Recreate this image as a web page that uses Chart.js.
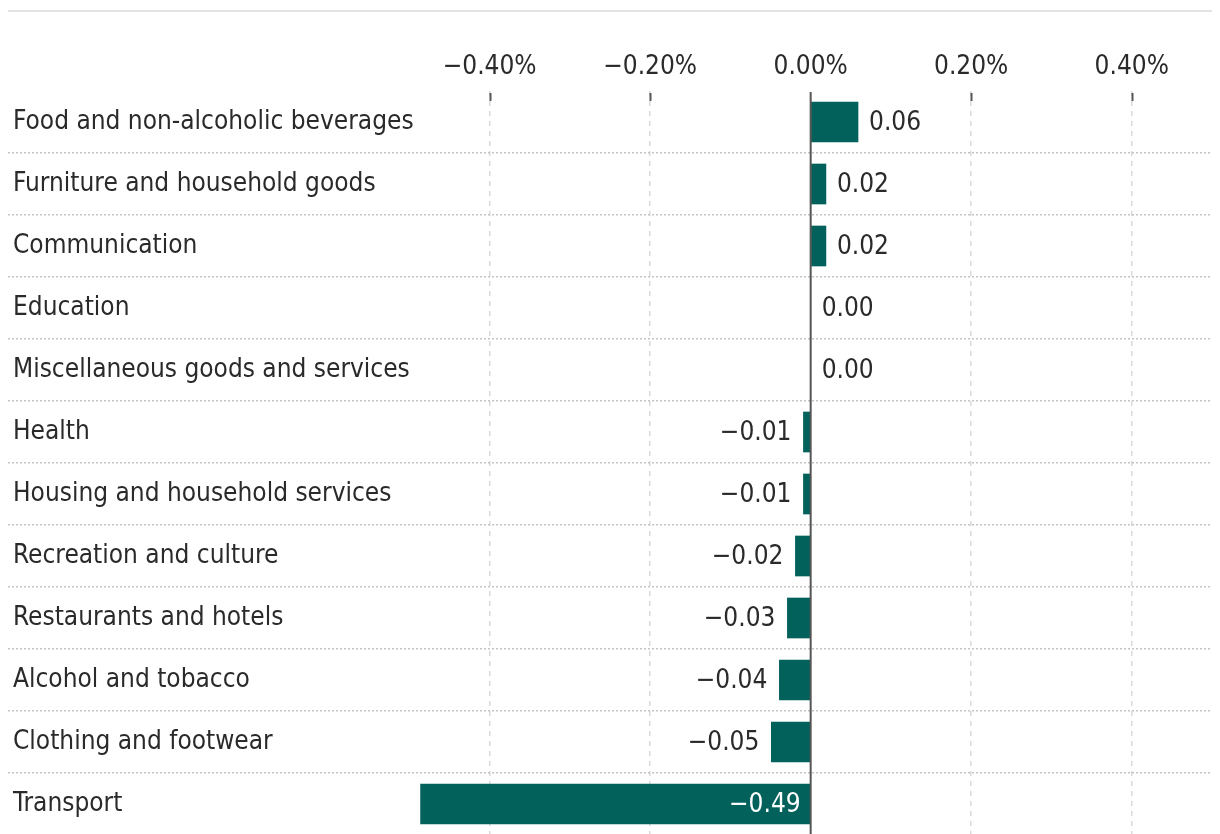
<!DOCTYPE html>
<html>
<head>
<meta charset="utf-8">
<script src="https://cdn.jsdelivr.net/npm/chart.js@4/dist/chart.umd.min.js"></script>
<style>
  html, body { margin: 0; padding: 0; background: #fff; overflow: hidden; }
  #wrap { width: 1220px; height: 836px; position: relative; }
</style>
</head>
<body>
<div id="wrap"><canvas id="contribChart"></canvas></div>
<script>
// ── data ──
const categories = [
  'Food and non-alcoholic beverages',
  'Furniture and household goods',
  'Communication',
  'Education',
  'Miscellaneous goods and services',
  'Health',
  'Housing and household services',
  'Recreation and culture',
  'Restaurants and hotels',
  'Alcohol and tobacco',
  'Clothing and footwear',
  'Transport',
];
const contributions = [0.059, 0.019, 0.019, 0.0, 0.0, -0.009, -0.009, -0.019, -0.029, -0.039, -0.049, -0.486];
const valueLabels = ['0.06', '0.02', '0.02', '0.00', '0.00', '−0.01', '−0.01', '−0.02', '−0.03', '−0.04', '−0.05', '−0.49'];
const xTicks = [-0.4, -0.2, 0, 0.2, 0.4];
const xTickLabels = ['−0.40%', '−0.20%', '0.00%', '0.20%', '0.40%'];

const FONT = '"Liberation Sans Narrow", "DejaVu Sans Condensed", Roboto, sans-serif';
const BAR = '#03615c';
const TEXT = '#2a2a2a';

// top rule line
const topRule = {
  id: 'topRule',
  beforeDraw(chart) {
    const ctx = chart.ctx;
    ctx.save();
    ctx.strokeStyle = '#e4e4e4';
    ctx.lineWidth = 2;
    ctx.beginPath();
    ctx.moveTo(chart.chartArea.left, 11);
    ctx.lineTo(chart.chartArea.right, 11);
    ctx.stroke();
    ctx.restore();
  }
};

// zero line, tick marks, value labels
const extras = {
  id: 'extras',
  afterDatasetsDraw(chart) {
    const ctx = chart.ctx;
    const xs = chart.scales.x;
    const area = chart.chartArea;
    ctx.save();

    // little tick marks under the axis labels
    ctx.strokeStyle = '#555';
    ctx.lineWidth = 2;
    xTicks.forEach(v => {
      if (v === 0) return;
      const x = Math.round(xs.getPixelForValue(v)) + 0.5;
      ctx.beginPath();
      ctx.moveTo(x, area.top + 2);
      ctx.lineTo(x, area.top + 10);
      ctx.stroke();
    });

    // zero line
    const x0 = xs.getPixelForValue(0);
    ctx.beginPath();
    ctx.moveTo(x0, area.top + 1);
    ctx.lineTo(x0, area.bottom);
    ctx.stroke();

    // value labels
    const meta = chart.getDatasetMeta(0);
    ctx.font = '26px ' + FONT;
    ctx.textBaseline = 'middle';
    meta.data.forEach((bar, i) => {
      const v = contributions[i];
      const y = bar.y + 1;
      if (v >= 0) {
        ctx.fillStyle = TEXT;
        ctx.textAlign = 'left';
        ctx.fillText(valueLabels[i], bar.x + 11, y);
      } else if (x0 - bar.x > 100) {
        ctx.fillStyle = '#fff';
        ctx.textAlign = 'right';
        ctx.fillText(valueLabels[i], x0 - 10, y);
      } else {
        ctx.fillStyle = TEXT;
        ctx.textAlign = 'right';
        ctx.fillText(valueLabels[i], bar.x - 12, y);
      }
    });
    ctx.restore();
  }
};

new Chart(document.getElementById('contribChart'), {
  type: 'bar',
  plugins: [topRule, extras],
  data: {
    labels: categories,
    datasets: [{
      data: contributions,
      backgroundColor: BAR,
      borderWidth: 0,
      barThickness: 40,
    }]
  },
  options: {
    indexAxis: 'y',
    devicePixelRatio: 1,
    animation: false,
    responsive: true,
    maintainAspectRatio: false,
    layout: { padding: { top: 51, right: 8, bottom: 1, left: 0 } },
    plugins: {
      legend: { display: false },
      tooltip: { enabled: false },
    },
    scales: {
      x: {
        position: 'top',
        min: -1.0,
        max: 0.5,
        afterBuildTicks: (axis) => {
          axis.ticks = xTicks.map(v => ({ value: v }));
        },
        afterFit: (axis) => { axis.height = 40; },
        ticks: {
          color: TEXT,
          padding: 8,
          maxRotation: 0,
          font: { family: FONT, size: 26 },
          callback: (v) => {
            const i = xTicks.findIndex(t => Math.abs(t - v) < 1e-9);
            return i >= 0 ? xTickLabels[i] : '';
          },
        },
        grid: {
          color: (ctx) => ctx.tick && ctx.tick.value === 0 ? 'rgba(0,0,0,0)' : '#dadada',
          lineWidth: 1.5,
          drawTicks: false,
        },
        border: { display: false, dash: [5, 5] },
      },
      y: {
        position: 'left',
        afterFit: (axis) => {
          axis.width = 8;
          axis.paddingTop = 0;
          axis.paddingBottom = 0;
        },
        ticks: {
          mirror: true,
          padding: 5,
          color: TEXT,
          font: { family: FONT, size: 26 },
        },
        grid: {
          offset: true,
          color: (ctx) => ctx.index === 0 ? 'rgba(0,0,0,0)' : '#c4c4c4',
          lineWidth: 1.5,
          drawTicks: false,
        },
        border: { display: false, dash: [2, 2] },
      },
    },
  },
});
</script>
</body>
</html>
